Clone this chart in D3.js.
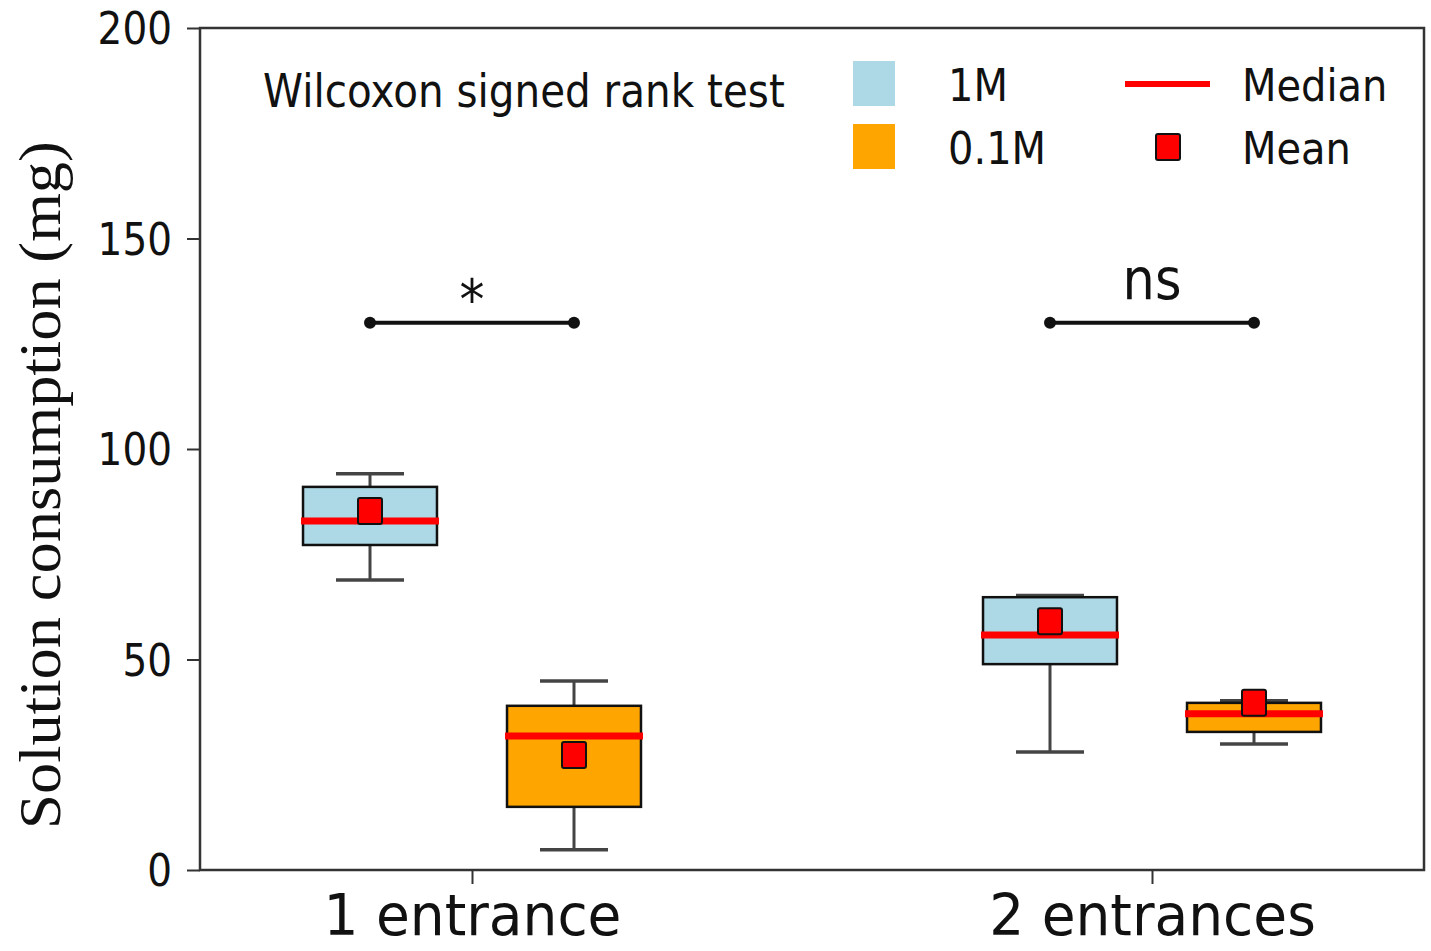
<!DOCTYPE html>
<html><head><meta charset="utf-8">
<script src="https://cdn.jsdelivr.net/npm/d3@7"></script>
<style>body{margin:0;background:#fff}</style>
</head><body>
<svg id="c" width="1431" height="951"></svg>
<script>
const categories = ["1 entrance", "2 entrances"];
const seriesNames = ["1M", "0.1M"];
const seriesColors = ["#add8e6", "#ffa500"];
// per series, per category: [whiskerLow, q1, median, q3, whiskerHigh]
const stats1M  = [[68.9, 77.2, 82.9, 91.0, 94.1], [28.0, 48.9, 55.8, 64.8, 65.2]];
const stats01M = [[4.8, 15.0, 31.8, 39.0, 44.9], [29.9, 32.8, 37.1, 39.7, 40.2]];
const means1M  = [85.3, 59.1];
const means01M = [27.3, 39.7];
const yTicks = [0, 50, 100, 150, 200];
const sigLabels = ["*", "ns"];
const sigLevel = 130;

const SY = 1.12; // vertical stretch of the glyphs in the reference
const svg = d3.select("#c");
const L = 200, R = 1424, T = 28, B = 870;
const x = d3.scaleLinear().domain([0.6, 2.4]).range([L, R]);
const y = d3.scaleLinear().domain([0, 200]).range([B, T]);
const offset = 0.15, bw = 0.197, cw = 0.1;

function txt(px, py, str, size, anchor, family) {
  return svg.append("text")
    .attr("transform", `translate(${px},${py}) scale(1,${SY})`)
    .attr("text-anchor", anchor || "start")
    .attr("font-family", family || "DejaVu Sans")
    .attr("font-size", size).attr("fill", "#111").text(str);
}

// frame
svg.append("rect").attr("x", L).attr("y", T).attr("width", R - L).attr("height", B - T)
  .attr("fill", "none").attr("stroke", "#333").attr("stroke-width", 2.5);

// y axis
const ya = svg.append("g").attr("transform", `translate(${L},0)`)
  .call(d3.axisLeft(y).tickValues(yTicks).tickSize(13).tickPadding(0));
ya.select(".domain").remove();
ya.selectAll("line").attr("stroke", "#333").attr("stroke-width", 2);
ya.selectAll("text").attr("font-family", "DejaVu Sans").attr("font-size", 39).attr("fill", "#111")
  .attr("x", 0).attr("dy", "0.36em").attr("transform", `translate(-28,0) scale(1,${SY})`);

// x axis
const xa = svg.append("g").attr("transform", `translate(0,${B})`)
  .call(d3.axisBottom(x).tickValues([1, 2]).tickFormat((d, i) => categories[i]).tickSize(14).tickPadding(0));
xa.select(".domain").remove();
xa.selectAll("line").attr("stroke", "#333").attr("stroke-width", 2);
xa.selectAll("text").attr("font-family", "DejaVu Sans").attr("font-size", 55).attr("fill", "#111")
  .attr("y", 0).attr("dy", 0).attr("transform", `translate(0,65) scale(1,1.05)`);

// y label
svg.append("text").attr("transform", `translate(60,${(T + B) / 2 + 36}) rotate(-90) scale(1.06,1)`)
  .attr("text-anchor", "middle").attr("font-family", "Liberation Serif").attr("font-size", 59)
  .attr("fill", "#111").text("Solution consumption (mg)");

const all = [
  {stats: stats1M, means: means1M, color: seriesColors[0], off: -offset},
  {stats: stats01M, means: means01M, color: seriesColors[1], off: offset}
];
all.forEach(s => {
  s.stats.forEach((st, i) => {
    const cx = x(i + 1 + s.off);
    const g = svg.append("g");
    const half = (x(bw) - x(0)) / 2, chalf = (x(cw) - x(0)) / 2;
    g.append("line").attr("x1", cx).attr("x2", cx).attr("y1", y(st[0])).attr("y2", y(st[1]))
      .attr("stroke", "#444").attr("stroke-width", 3);
    g.append("line").attr("x1", cx).attr("x2", cx).attr("y1", y(st[3])).attr("y2", y(st[4]))
      .attr("stroke", "#444").attr("stroke-width", 3);
    [st[0], st[4]].forEach(v => g.append("line").attr("x1", cx - chalf).attr("x2", cx + chalf)
      .attr("y1", y(v)).attr("y2", y(v)).attr("stroke", "#444").attr("stroke-width", 3.5));
    g.append("rect").attr("x", cx - half).attr("width", 2 * half)
      .attr("y", y(st[3])).attr("height", y(st[1]) - y(st[3]))
      .attr("fill", s.color).attr("stroke", "#111").attr("stroke-width", 2.5);
    g.append("line").attr("x1", cx - half - 2).attr("x2", cx + half + 2)
      .attr("y1", y(st[2])).attr("y2", y(st[2])).attr("stroke", "#ff0000").attr("stroke-width", 7);
    const m = s.means[i];
    g.append("rect").attr("x", cx - 12).attr("y", y(m) - 13).attr("width", 24).attr("height", 26)
      .attr("rx", 2).attr("fill", "#ff0000").attr("stroke", "#111").attr("stroke-width", 2);
  });
});

// significance bars
[0, 1].forEach(i => {
  const x1 = x(i + 1 - offset), x2 = x(i + 1 + offset);
  svg.append("line").attr("x1", x1).attr("x2", x2).attr("y1", y(sigLevel)).attr("y2", y(sigLevel))
    .attr("stroke", "#111").attr("stroke-width", 4);
  [x1, x2].forEach(xx => svg.append("circle").attr("cx", xx).attr("cy", y(sigLevel)).attr("r", 6).attr("fill", "#111"));
  if (i === 0) txt(x(i + 1), y(sigLevel) - 4, sigLabels[i], 50, "middle");
  else txt(x(i + 1), y(sigLevel) - 24, sigLabels[i], 51, "middle");
});

// legend
txt(263, 107, "Wilcoxon signed rank test", 40.5);
seriesNames.forEach((n, i) => {
  const yy = 61 + i * 63;
  svg.append("rect").attr("x", 853).attr("y", yy).attr("width", 42).attr("height", 45).attr("fill", seriesColors[i]);
  txt(948, yy + 40, n, 40);
});
svg.append("line").attr("x1", 1125).attr("x2", 1210).attr("y1", 84).attr("y2", 84)
  .attr("stroke", "#ff0000").attr("stroke-width", 6);
txt(1242, 101, "Median", 40);
svg.append("rect").attr("x", 1156).attr("y", 134).attr("width", 24).attr("height", 26).attr("rx", 2)
  .attr("fill", "#ff0000").attr("stroke", "#111").attr("stroke-width", 2);
txt(1242, 164, "Mean", 40);
</script>
</body></html>
